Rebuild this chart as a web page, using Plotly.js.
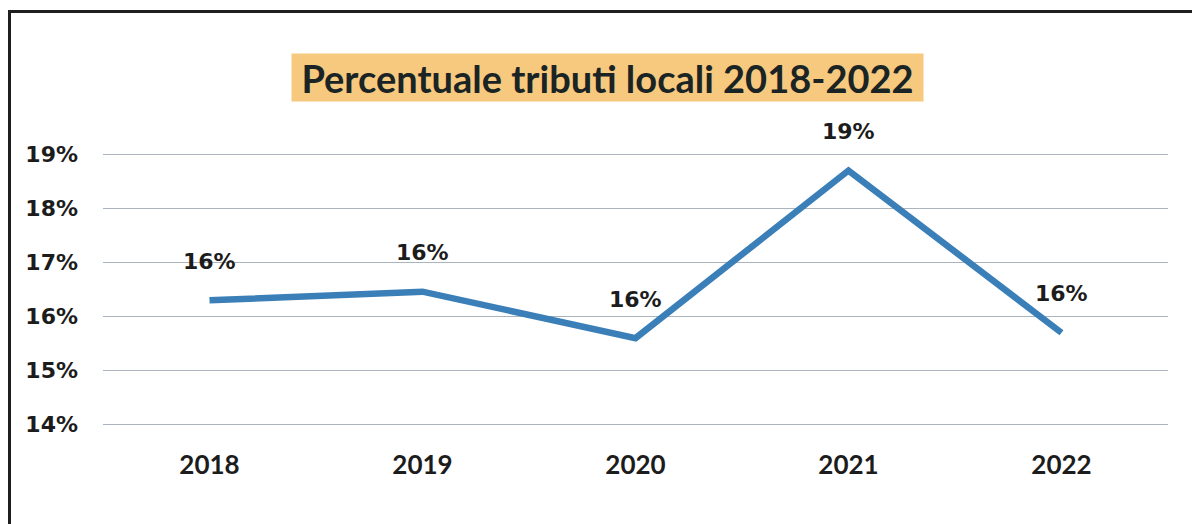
<!DOCTYPE html>
<html>
<head>
<meta charset="utf-8">
<script src="https://cdn.plot.ly/plotly-3.0.1.min.js"></script>
<style>
  html, body { margin: 0; padding: 0; background: #ffffff; }
  #wrap { position: relative; width: 1192px; height: 524px; overflow: hidden; }
  #chart { width: 1192px; height: 524px; }
  #frame { position: absolute; left: 8px; top: 10px; width: 1200px; height: 600px;
           border-left: 3px solid #1f1f1f; border-top: 3px solid #1f1f1f; pointer-events: none; }
</style>
</head>
<body>
<div id="wrap">
  <div id="chart"></div>
  <div id="frame"></div>
</div>
<script>
const years = ['2018', '2019', '2020', '2021', '2022'];
const percentValues = [16.3, 16.46, 15.6, 18.7, 15.7];
const yTickValues = [14, 15, 16, 17, 18, 19];
const chartTitle = 'Percentuale tributi locali 2018-2022';

const trace = {
  x: years,
  y: percentValues,
  type: 'scatter',
  mode: 'lines',
  line: { color: '#3a7fb8', width: 6.5 },
  hoverinfo: 'skip'
};

const labelAnnotations = years.map((yr, i) => ({
  x: i,
  y: percentValues[i],
  xref: 'x',
  yref: 'y',
  text: Math.round(percentValues[i]) + '%',
  showarrow: false,
  yshift: 39,
  font: { family: 'DejaVu Sans', size: 22, color: '#1c1c1c', weight: 'bold' }
}));

const titleAnnotation = {
  xref: 'paper', yref: 'paper',
  x: (607 - 103) / (1168 - 103),
  y: 1 + (153 - 77) / (426 - 153),
  xanchor: 'center', yanchor: 'middle',
  text: chartTitle,
  showarrow: false,
  bgcolor: '#f6c97e',
  width: 629,
  height: 45,
  font: { family: 'Lato, Carlito, sans-serif', size: 38, color: '#1b2424', weight: 'bold' }
};

const layout = {
  width: 1192,
  height: 524,
  paper_bgcolor: '#ffffff',
  plot_bgcolor: '#ffffff',
  margin: { l: 103, r: 24, t: 153, b: 98 },
  showlegend: false,
  xaxis: {
    type: 'category',
    range: [-0.5, 4.5],
    showgrid: false,
    zeroline: false,
    showline: false,
    ticks: '',
    ticklabelstandoff: 21,
    tickfont: { family: 'Lato, Carlito, sans-serif', size: 26, color: '#1c1c1c', weight: 'bold' },
    fixedrange: true
  },
  yaxis: {
    range: [13.975, 19.025],
    tickvals: yTickValues,
    ticktext: yTickValues.map(v => v + '%'),
    showgrid: true,
    gridcolor: '#aab4be',
    gridwidth: 1.6,
    zeroline: false,
    showline: false,
    ticks: '',
    ticklabelstandoff: 24,
    tickfont: { family: 'DejaVu Sans', size: 22, color: '#1c1c1c', weight: 'bold' },
    fixedrange: true
  },
  annotations: [titleAnnotation].concat(labelAnnotations)
};

Plotly.newPlot('chart', [trace], layout, { displayModeBar: false, staticPlot: true });
</script>
</body>
</html>
